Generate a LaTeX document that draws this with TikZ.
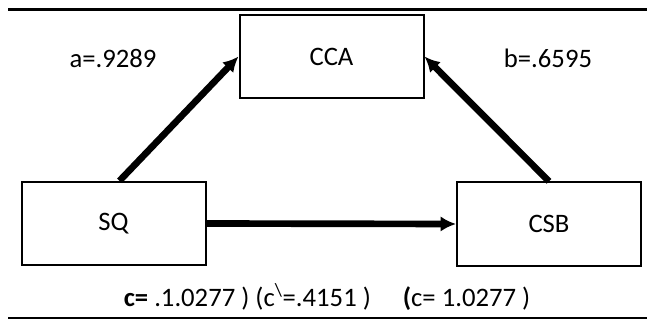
\documentclass[tikz,border=0pt]{standalone}
\usepackage{fontspec}
\setmainfont{Carlito}
\usetikzlibrary{arrows.meta}

\tikzset{every picture/.style={line width=0.75pt}}
\tikzset{
  varbox/.style={draw, line width=1.5pt, minimum width=138pt, minimum height=62.5pt, inner sep=0pt},
  pathline/.style={line width=5pt, -{Latex[length=11.5pt,width=11.5pt]}},
  coeftext/.style={inner sep=0.75pt, font=\fontsize{20}{24}\selectfont}
}

\begin{document}
\begin{tikzpicture}[x=0.75pt,y=0.75pt,yscale=-1,xscale=1]
\useasboundingbox (0,0) rectangle (647,320);

%Rules
\draw [line width=2.2pt] (8,9.5) -- (647,9.5) ;
\draw [line width=1.5pt] (8,318.5) -- (647,318.5) ;

% Boxes
\node [varbox, coeftext] (CCA) at (331.5,56.5) {CCA};
\node [varbox, coeftext] (SQ) at (113.5,223.5) {SQ};
\node [varbox, coeftext] (CSB) at (549,224) {CSB};

% Paths
\draw [pathline] ([xshift=4.5pt]SQ.north) -- (CCA.west) ;
\draw [pathline] (CSB.north) -- (CCA.east) ;
\draw [pathline] (SQ.east) -- (CSB.west) ;

% Text Node
\node [coeftext] (lblA) at (113,58) {a=.9289};
% Text Node
\node [coeftext] (lblB) at (548,58) {b=.6595};
% Text Node
\node [coeftext] (effect) at (327,297) {\textbf{c=} .1.0277 ) (c\textsuperscript{\textbackslash}=.4151 )\hspace*{1.2em}\textbf{(}c= 1.0277 )};

\end{tikzpicture}
\end{document}
